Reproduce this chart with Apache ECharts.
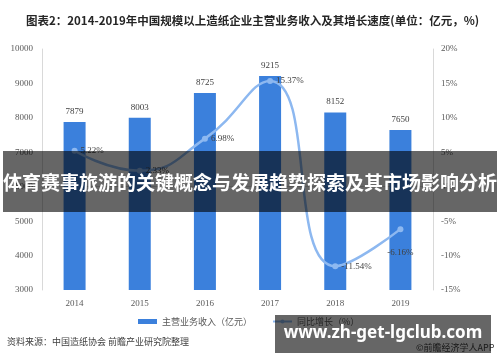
<!DOCTYPE html>
<html><head><meta charset="utf-8">
<script src="https://cdn.jsdelivr.net/npm/echarts@6/dist/echarts.min.js"></script>
<style>html,body{margin:0;padding:0;background:#fff}#c{width:500px;height:362px}</style>
</head><body><div id="c"></div>
<script>
const categories = ['2014','2015','2016','2017','2018','2019'];
const revenue = [7879, 8003, 8725, 9215, 8152, 7650];
const growth = [5.22, 2.33, 6.98, 15.37, -11.54, -6.16];
const leftTicks = {min: 3000, max: 10000, interval: 1000};
const rightTicks = {min: -15, max: 20, interval: 5};

const chart = echarts.init(document.getElementById('c'), null, {renderer: 'canvas'});
const numFont = 'Liberation Serif';
const cjk = '"Noto Sans CJK SC", sans-serif';
chart.setOption({
  animation: false,
  title: {
    text: '图表2：2014-2019年中国规模以上造纸企业主营业务收入及其增长速度(单位：亿元，%)',
    left: 21, top: 10,
    textStyle: {fontFamily: cjk, fontSize: 11.5, fontWeight: 'bold', color: '#262626'}
  },
  grid: {left: 42, right: 67, top: 49, bottom: 72},
  legend: {
    left: 133, top: 312, itemGap: 20, itemWidth: 19, itemHeight: 5,
    textStyle: {fontFamily: cjk, fontSize: 9, color: '#595959'},
    data: [
      {name: '主营业务收入（亿元）', icon: 'rect'},
      {name: '同比增长（%）'}
    ]
  },
  xAxis: {
    type: 'category', data: categories,
    axisLine: {lineStyle: {color: '#d9d9d9'}},
    axisTick: {show: false},
    axisLabel: {fontFamily: numFont, fontSize: 9, color: '#595959', margin: 9}
  },
  yAxis: [
    {type: 'value', min: leftTicks.min, max: leftTicks.max, interval: leftTicks.interval,
     axisLine: {show: true, lineStyle: {color: '#d9d9d9'}}, axisTick: {show: false},
     splitLine: {show: false},
     axisLabel: {fontFamily: numFont, fontSize: 9, color: '#595959', margin: 9, formatter: v => String(v)}},
    {type: 'value', min: rightTicks.min, max: rightTicks.max, interval: rightTicks.interval,
     axisLine: {show: true, lineStyle: {color: '#d9d9d9'}}, axisTick: {show: false},
     splitLine: {show: false},
     axisLabel: {fontFamily: numFont, fontSize: 9, color: '#595959', margin: 8, formatter: '{value}%'}}
  ],
  series: [
    {name: '主营业务收入（亿元）', type: 'bar', data: revenue, barWidth: 22,
     itemStyle: {color: '#3b80dc'},
     label: {show: true, position: 'top', distance: 6, fontFamily: numFont, fontSize: 9, color: '#404040'}},
    {name: '同比增长（%）', type: 'line', yAxisIndex: 1, smooth: 0.5,
     symbol: 'circle', symbolSize: 6,
     lineStyle: {color: '#8db8f0', width: 2.5},
     itemStyle: {color: '#8db8f0'},
     label: {show: true, position: 'right', distance: 3, fontFamily: numFont, fontSize: 9, color: '#404040',
       formatter: p => p.value.toFixed(2) + '%'},
     labelLayout: {hideOverlap: false},
     data: growth.map((v, i) => i === 5 ? {value: v, label: {position: 'bottom', distance: 16}} : v)}
  ],
  graphic: [
    {type: 'text', left: 7, top: 337, z: 10,
     style: {text: '资料来源：中国造纸协会 前瞻产业研究院整理', font: '9px "Noto Sans CJK SC"', fill: '#404040'}},
    {type: 'text', left: 416, top: 343, z: 10,
     style: {text: '©前瞻经济学人APP', font: '9px "Noto Sans CJK SC"', fill: '#404040'}},
    {type: 'rect', shape: {x: 3, y: 151, width: 494, height: 61}, z: 50,
     style: {fill: 'rgba(0,0,0,0.6)'}},
    {type: 'text', x: 250, y: 183, z: 51,
     style: {text: '体育赛事旅游的关键概念与发展趋势探索及其市场影响分析', font: 'bold 19px "Noto Sans CJK SC"',
       fill: '#ffffff', align: 'center', verticalAlign: 'middle'}},
    {type: 'rect', shape: {x: 275, y: 315, width: 216, height: 38}, z: 50,
     style: {fill: 'rgba(0,0,0,0.6)'}},
    {type: 'text', x: 383, y: 333, z: 51,
     style: {text: 'www.zh-get-lgclub.com', font: 'bold 17px "Noto Sans", sans-serif',
       fill: '#ffffff', align: 'center', verticalAlign: 'middle'}}
  ]
});
</script></body></html>
